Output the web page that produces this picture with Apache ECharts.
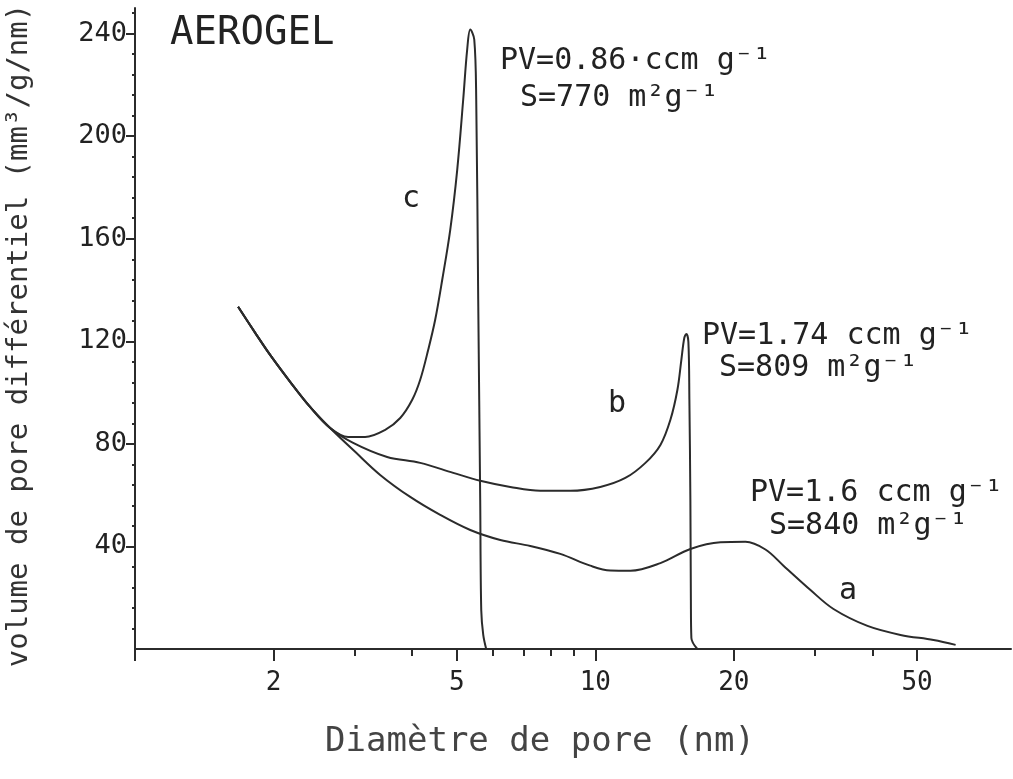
<!DOCTYPE html>
<html><head><meta charset="utf-8">
<script src="https://cdn.jsdelivr.net/npm/echarts@6/dist/echarts.min.js"></script>
<style>html,body{margin:0;padding:0;background:#fff}#c{width:1013px;height:779px}</style>
</head><body><div id="c"></div>
<script>
// ---- data (pore diameter in nm, differential pore volume in mm3/g/nm) ----
const aD = [1.675,1.823,1.966,2.173,2.401,2.654,3.008,3.409,3.962,4.603,5.350,6.217,7.223,8.393,9.752,10.78,11.92,13.85,16.09,18.70,21.19,23.42,25.63,29.34,32.92,39.02,46.03,54.30,60.64];
const aV = [133.5,123.4,114.7,104.2,94.4,86.2,76.9,67.9,59.3,52.3,46.4,42.5,40.2,37.1,32.5,30.6,30.5,33.5,39.0,41.6,41.8,38.8,32.5,23.0,15.6,9.0,5.5,3.5,1.6];

const bD = [1.675,1.823,1.966,2.173,2.401,2.654,2.978,3.530,4.165,4.913,5.623,6.535,7.593,8.826,10.25,11.62,12.85,13.85,14.56,15.08,15.38,15.61,15.77,15.93,16.01,16.09,16.13,16.17,16.66];
const bV = [133.5,123.4,114.7,104.2,94.4,86.2,80.4,74.9,72.6,68.7,65.6,63.2,61.7,61.7,63.2,66.7,72.6,79.6,89.4,101.1,112.8,121.4,122.9,119.8,97.2,58.1,19.1,4.3,0];

const cD = [1.675,1.823,1.966,2.173,2.401,2.654,2.904,3.162,3.496,3.769,4.002,4.165,4.335,4.489,4.650,4.840,5.012,5.164,5.268,5.350,5.458,5.512,5.567,5.623,5.652,5.709,5.794];
const cV = [133.5,123.4,114.7,104.2,94.4,86.2,82.7,82.7,85.5,90.1,97.2,105.0,116.7,128.4,144.0,163.5,186.9,214.2,233.8,241.6,237.7,214.2,136.2,58.1,15.2,5.5,0];

const xMajorTicks = [1,2,5,10,20,50];
const xTickLabels = [2,5,10,20,50];
const xMinorTicks = [3,4,6,7,8,9,30,40];
const yTickLabels = [40,80,120,160,200,240];

const curveNames = ['a','b','c'];
const annotations = [
  ['PV=0.86·ccm g⁻¹','S=770 m²g⁻¹'],
  ['PV=1.74 ccm g⁻¹','S=809 m²g⁻¹'],
  ['PV=1.6 ccm g⁻¹','S=840 m²g⁻¹']
];

// ---- chart ----
const FONT = '"DejaVu Sans Mono", "Liberation Mono", monospace';
const INK = '#2b2b2b';
const X_MAX = 80;
const chart = echarts.init(document.getElementById('c'), null, {renderer:'canvas'});

function pairs(xs, ys){ return xs.map((x,i)=>[x, ys[i]]); }
const lineSeries = (name, xs, ys) => ({
  name, type:'line', xAxisIndex:0, yAxisIndex:0,
  data: pairs(xs, ys), showSymbol:false, symbol:'none',
  smooth:0.35,
  lineStyle:{color:INK, width:2}, z:3
});

const textEl = (txt, left, top, size) => ({
  type:'text', left, top, silent:true,
  style:{text:txt, font: size+'px '+FONT, fill:'#222'}
});

chart.setOption({
  animation:false,
  backgroundColor:'#fff',
  grid:{left:135, right:2, top:8, bottom:130, containLabel:false, outerBoundsMode:'none'},
  xAxis:[
    { type:'log', logBase:10, min:1, max:X_MAX,
      axisLine:{show:true, lineStyle:{color:INK, width:2}},
      axisTick:{show:false}, axisLabel:{show:false}, splitLine:{show:false}, minorTick:{show:false} },
    { type:'value', min:0, max:Math.log10(X_MAX), position:'bottom',
      axisLine:{show:false},
      axisTick:{show:true, customValues:xMajorTicks.map(Math.log10), length:12, lineStyle:{color:INK, width:2}},
      axisLabel:{show:true, customValues:xTickLabels.map(Math.log10), margin:21,
        formatter:v=>String(Math.round(Math.pow(10,v))),
        fontFamily:FONT, fontSize:26, color:'#222'},
      splitLine:{show:false},
      name:'Diamètre de pore (nm)', nameLocation:'middle', nameGap:76,
      nameTextStyle:{fontFamily:FONT, fontSize:34, color:'#444', padding:[0,66,0,0]} },
    { type:'value', min:0, max:Math.log10(X_MAX), position:'bottom',
      axisLine:{show:false},
      axisTick:{show:true, customValues:xMinorTicks.map(Math.log10), length:7, lineStyle:{color:INK, width:2}},
      axisLabel:{show:false}, splitLine:{show:false} }
  ],
  yAxis:[{
    type:'value', min:0, max:250, interval:40,
    axisLine:{show:true, lineStyle:{color:INK, width:2}},
    axisTick:{show:true, customValues:yTickLabels, length:9, lineStyle:{color:INK, width:2}},
    minorTick:{show:true, splitNumber:5, length:3, lineStyle:{color:INK, width:2}},
    axisLabel:{customValues:yTickLabels, margin:8, fontFamily:FONT, fontSize:27, color:'#222'},
    splitLine:{show:false},
    name:'volume de pore différentiel (mm³/g/nm)', nameLocation:'middle', nameGap:101, nameRotate:90,
    nameTextStyle:{fontFamily:FONT, fontSize:29, color:'#333', padding:[0,14,0,0]}
  }],
  series:[
    lineSeries('a', aD, aV),
    lineSeries('b', bD, bV),
    lineSeries('c', cD, cV)
  ],
  graphic:[
    textEl('AEROGEL', 170, 14, 39),
    textEl(annotations[0][0], 500, 46, 30),
    textEl(annotations[0][1], 520, 83, 30),
    textEl(annotations[1][0], 702, 321, 30),
    textEl(annotations[1][1], 719, 353, 30),
    textEl(annotations[2][0], 750, 478, 30),
    textEl(annotations[2][1], 769, 511, 30),
    { type:'text', x:848, y:591, silent:true, style:{text:curveNames[0], font:'30px '+FONT, fill:'#222', textAlign:'center', textVerticalAlign:'middle'} },
    { type:'text', x:617, y:404, silent:true, style:{text:curveNames[1], font:'30px '+FONT, fill:'#222', textAlign:'center', textVerticalAlign:'middle'} },
    { type:'text', x:411, y:199, silent:true, style:{text:curveNames[2], font:'30px '+FONT, fill:'#222', textAlign:'center', textVerticalAlign:'middle'} }
  ]
});
</script>
</body></html>
